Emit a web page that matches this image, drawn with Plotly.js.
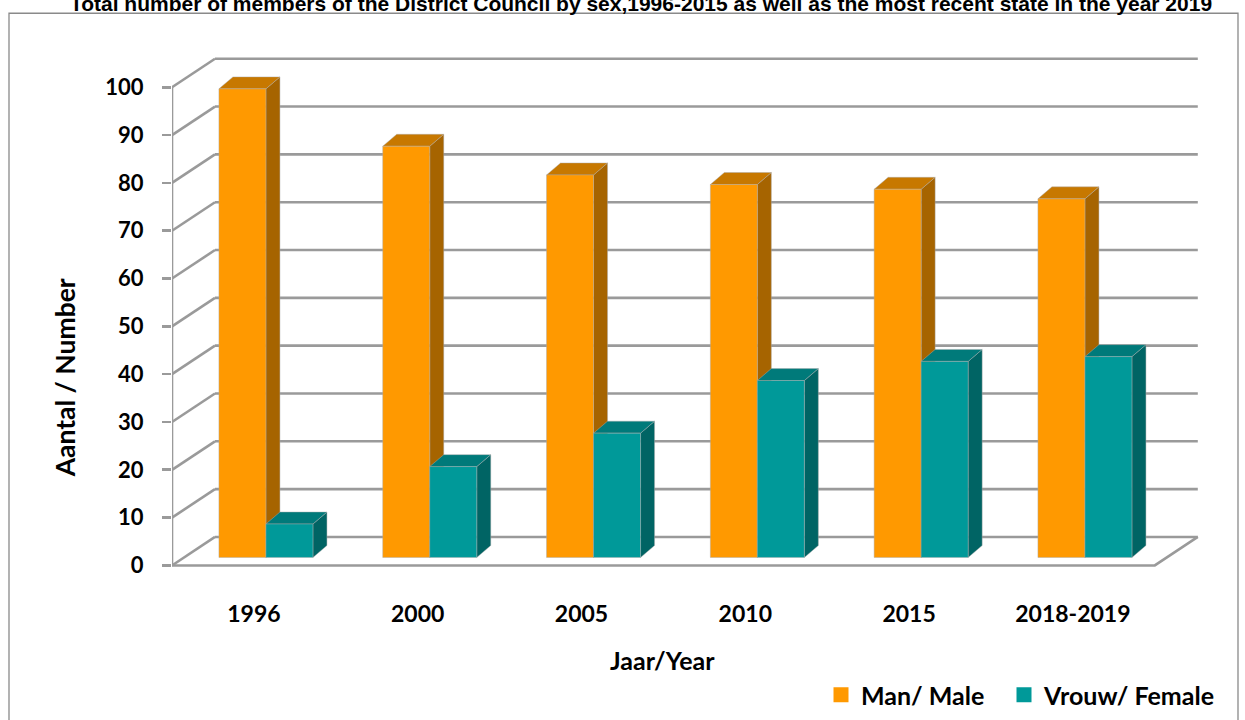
<!DOCTYPE html>
<html><head><meta charset="utf-8">
<script src="https://cdn.plot.ly/plotly-3.0.1.min.js"></script>
<style>html,body{margin:0;padding:0;background:#fff}</style>
</head><body><div id="chart" style="width:1245px;height:720px"></div>
<script>
// ---- data ----
const categories = ['1996', '2000', '2005', '2010', '2015', '2018-2019'];
const maleValues = [98, 86, 80, 78, 77, 75];
const femaleValues = [7, 19, 26, 37, 41, 42];
const yTicks = [0, 10, 20, 30, 40, 50, 60, 70, 80, 90, 100];
const seriesNames = ['Man/ Male', 'Vrouw/ Female'];
const chartTitle = 'Total number of members of the District Council by sex,1996-2015 as well as the most recent state in the year 2019';
const yTitle = 'Aantal / Number';
const xTitle = 'Jaar/Year';

// ---- pseudo-3D geometry (axis units) ----
const N = categories.length;
const DEPTH_X = 0.2625, DEPTH_Y = 5.96;   // back wall offset
const BAR_PLANE = 0.28;                   // depth fraction of bar fronts
const BAR_W = 0.287;                      // each bar width (category = 1)
const BAR_DX = 0.0855, BAR_DY = 2.5;      // bar depth
const GRID = '#9a9a9a';

const colors = [
  {front: '#FF9900', side: '#A66400', top: '#C77800'},
  {front: '#009999', side: '#006464', top: '#007A7A'}
];
const legendWidths = [138, 190];

const traces = [];

// walls & grid
const gx = [], gy = [];
yTicks.forEach(v => {
  gx.push(DEPTH_X, N + DEPTH_X, null); gy.push(v + DEPTH_Y, v + DEPTH_Y, null);
  gx.push(0, DEPTH_X, null); gy.push(v, v + DEPTH_Y, null);
});
gx.push(0, N, N + DEPTH_X, null); gy.push(0, 0, DEPTH_Y, null);
gx.push(0, 0, null); gy.push(0, yTicks[yTicks.length - 1], null);
traces.push({type: 'scatter', mode: 'lines', x: gx, y: gy, line: {color: GRID, width: 2.6},
  hoverinfo: 'skip', showlegend: false});

// bars
[maleValues, femaleValues].forEach((vals, s) => {
  const fx = [], fy = [], sx = [], sy = [], tx = [], ty = [];
  vals.forEach((v, i) => {
    const x0 = i + 0.5 - BAR_W + s * BAR_W + BAR_PLANE * DEPTH_X;
    const x1 = x0 + BAR_W;
    const b = BAR_PLANE * DEPTH_Y, t = b + v;
    fx.push(x0, x1, x1, x0, x0, null); fy.push(b, b, t, t, b, null);
    sx.push(x1, x1 + BAR_DX, x1 + BAR_DX, x1, x1, null); sy.push(b, b + BAR_DY, t + BAR_DY, t, b, null);
    tx.push(x0, x0 + BAR_DX, x1 + BAR_DX, x1, x0, null); ty.push(t, t + BAR_DY, t + BAR_DY, t, t, null);
  });
  const c = colors[s];
  const mk = (x, y, col) => ({type: 'scatter', mode: 'lines', x, y, fill: 'toself', fillcolor: col,
    line: {color: 'rgba(170,170,170,0.45)', width: 1}, hoverinfo: 'skip', showlegend: false});
  traces.push(mk(sx, sy, c.side), mk(tx, ty, c.top), mk(fx, fy, c.front));
});

// legend entries
seriesNames.forEach((name, s) => {
  traces.push({type: 'scatter', mode: 'markers', x: [null], y: [null], name, legendwidth: legendWidths[s],
    marker: {symbol: 'square', size: 15, color: colors[s].front}, hoverinfo: 'skip'});
});

// ---- layout ----
const L = 172, R = 41, PXU_X = 163.8, PXU_Y = 4.78;
const yMin = -2, yMax = 108;
const T = 565 - yMax * PXU_Y, B = 720 - (565 - yMin * PXU_Y);
const plotW = 1245 - L - R, plotH = 720 - T - B;
const px = x => (x - L) / plotW;
const py = y => (720 - B - y) / plotH;
const font = (size) => ({family: 'Lato, sans-serif', size, color: '#000', weight: 700});

const layout = {
  width: 1245, height: 720,
  margin: {l: L, r: R, t: T, b: B, pad: 0, autoexpand: false},
  paper_bgcolor: '#fff', plot_bgcolor: 'rgba(0,0,0,0)',
  title: {text: chartTitle, font: {family: 'Liberation Sans, Arial, sans-serif', size: 21, color: '#000', weight: 700},
    xref: 'container', yref: 'container', x: 641 / 1245, y: 1 - 4 / 720, xanchor: 'center', yanchor: 'middle'},
  xaxis: {range: [0, plotW / PXU_X], tickvals: categories.map((c, i) => i + 0.5), ticktext: categories,
    showgrid: false, zeroline: false, showline: false, ticks: 'outside', ticklen: 18,
    tickcolor: 'rgba(0,0,0,0)', tickfont: font(23), fixedrange: true, automargin: false},
  yaxis: {range: [yMin, yMax], tickvals: yTicks, ticks: 'outside', ticklen: 9, tickwidth: 2.6,
    tickcolor: GRID, showgrid: false, zeroline: false, showline: false, tickfont: font(22),
    ticklabelstandoff: 14, fixedrange: true, automargin: false},
  showlegend: true,
  legend: {orientation: 'h', xref: 'container', yref: 'container', x: 821 / 1245, y: 1 - 695 / 720,
    xanchor: 'left', yanchor: 'middle', font: font(25), bgcolor: 'rgba(0,0,0,0)'},
  annotations: [
    {text: yTitle, xref: 'paper', yref: 'paper', x: px(65), y: py(378), textangle: -90, showarrow: false,
      xanchor: 'center', yanchor: 'middle', font: font(26.5)},
    {text: xTitle, xref: 'paper', yref: 'paper', x: px(662), y: py(660), showarrow: false,
      xanchor: 'center', yanchor: 'middle', font: font(25)}
  ],
  shapes: [{type: 'rect', xref: 'paper', yref: 'paper', x0: px(9), x1: px(1238), y0: py(730), y1: py(13),
    line: {color: '#8a8a8a', width: 1.3}, fillcolor: 'rgba(0,0,0,0)', layer: 'below'}]
};

Plotly.newPlot('chart', traces, layout, {displayModeBar: false, staticPlot: true});
</script></body></html>
